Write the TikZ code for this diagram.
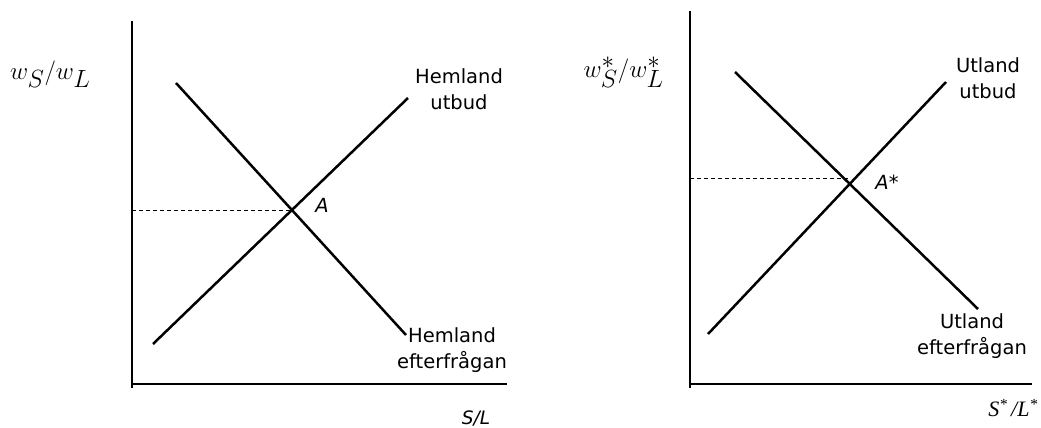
\documentclass[tikz,border=0pt]{standalone}
\usepackage{fontspec}
\setmainfont{DejaVu Sans}
\newfontfamily\timesfont{Liberation Serif}
\usetikzlibrary{positioning}

\begin{document}
\begin{tikzpicture}[x=1pt,y=-1pt,
      axis/.style={line width=1.5pt},
      curve/.style={line width=2.5pt},
      level/.style={line width=1pt,dash pattern=on 4pt off 3pt},
      text node/.style={font=\fontsize{19.5}{25.5}\selectfont,align=center,inner sep=0pt},
      price node/.style={font=\fontsize{33}{37}\selectfont,inner sep=0pt}]
      \useasboundingbox (0,0) rectangle (1041,428);

      % Hemland
      \coordinate (y1) at (132,21);
      \coordinate (b1) at (132,388);
      \coordinate (o1) at (132,384);
      \coordinate (x1) at (507,384);
      \coordinate (s1a) at (153,344);
      \coordinate (s1b) at (408,98);
      \coordinate (d1a) at (176,83);
      \coordinate (d1b) at (406,335);
      \coordinate (e1) at (intersection of s1a--s1b and d1a--d1b);
      \coordinate (p1) at (o1 |- e1);

      \node[price node,anchor=west] (w1) at (10,74) {$w_S/w_L$};
      \node[text node] (hs) at (459,89) {Hemland\\utbud};
      \node[text node] (hd) at (452,350) {Hemland\\efterfrågan};
      \node[text node,font=\fontsize{18.5}{23}\selectfont\itshape] (q1) at (476,418) {S/L};
      \node[text node,font=\fontsize{19.5}{23}\selectfont\itshape] (A) at (322,205) {A};

      \draw[axis] (y1) -- (b1);
      \draw[axis] (o1) -- (x1);
      \draw[curve] (s1a) -- (s1b);
      \draw[curve] (d1a) -- (d1b);
      \draw[level] (p1) -- (e1);

      % Utland
      \coordinate (y2) at (690,11);
      \coordinate (b2) at (690,388);
      \coordinate (o2) at (690,384);
      \coordinate (x2) at (1032,384);
      \coordinate (s2a) at (708,334);
      \coordinate (s2b) at (946,82);
      \coordinate (d2a) at (735,72);
      \coordinate (d2b) at (978,309);
      \coordinate (e2) at (848,178);
      \coordinate (p2) at (o2 |- e2);

      \node[price node,anchor=east] (w2) at (664,72) {$w^*_S/w^*_L$};
      \node[text node] (us) at (988,78) {Utland\\utbud};
      \node[text node] (ud) at (972,336) {Utland\\efterfrågan};
      \node[text node,font=\fontsize{22}{25}\selectfont\timesfont\itshape] (q2) at (1013,408) {S\textsuperscript{*}\,/L\textsuperscript{*}};
      \node[text node,font=\fontsize{19.5}{23}\selectfont\itshape] (Ast) at (887,182) {A*};

      \draw[axis] (y2) -- (b2);
      \draw[axis] (o2) -- (x2);
      \draw[curve] (s2a) -- (s2b);
      \draw[curve] (d2a) -- (d2b);
      \draw[level] (p2) -- (e2);
\end{tikzpicture}
\end{document}
